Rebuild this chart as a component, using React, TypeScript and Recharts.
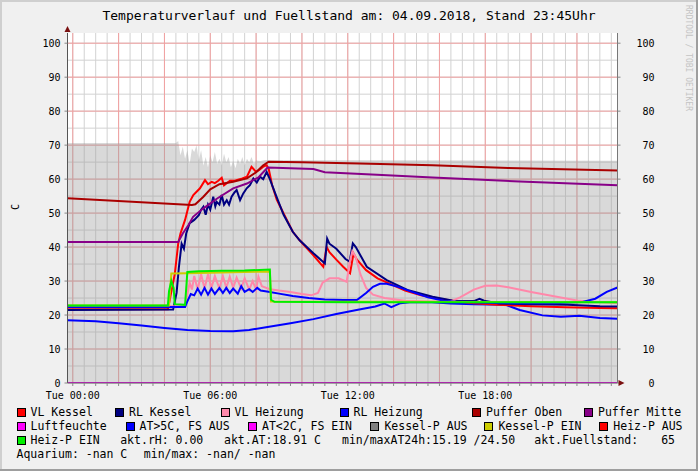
import React from "react"
import { Area, CartesianGrid, ComposedChart, Line, ReferenceDot, XAxis, YAxis } from "recharts"

const MONO = '"DejaVu Sans Mono", "Liberation Mono", monospace'

// x = hours of Tue 04.09.2018 (plot runs ~23:46 Mon .. 23:46 Tue), y = degC / %
const xDomain: [number, number] = [-0.23, 23.77]
const yDomain: [number, number] = [0, 103]

const yTicks = [0, 10, 20, 30, 40, 50, 60, 70, 80, 90, 100]
const gridY5 = [5, 10, 15, 20, 25, 30, 35, 40, 45, 50, 55, 60, 65, 70, 75, 80, 85, 90, 95, 100]
const gridY10 = [10, 20, 30, 40, 50, 60, 70, 80, 90, 100]
const halfHours = [
  0, 0.5, 1, 1.5, 2, 2.5, 3, 3.5, 4, 4.5, 5, 5.5, 6, 6.5, 7, 7.5, 8, 8.5, 9, 9.5, 10, 10.5, 11, 11.5,
  12, 12.5, 13, 13.5, 14, 14.5, 15, 15.5, 16, 16.5, 17, 17.5, 18, 18.5, 19, 19.5, 20, 20.5, 21, 21.5,
  22, 22.5, 23, 23.5,
]
const twoHours = [0, 2, 4, 6, 8, 10, 12, 14, 16, 18, 20, 22]
const labelHours = [0, 6, 12, 18]
const labelTexts = ["Tue 00:00", "Tue 06:00", "Tue 12:00", "Tue 18:00"]

type P = [number, number]

const fuellstand: P[] = [
  [-0.23, 70.6], [4.5, 70.6], [4.6, 71.2], [4.7, 67], [4.8, 69.5], [4.9, 66], [5.0, 68.5], [5.1, 64.5],
  [5.2, 69], [5.3, 68], [5.4, 70], [5.5, 65.5], [5.6, 68.5], [5.7, 64], [5.8, 66.5], [5.9, 63.5],
  [6.0, 67], [6.1, 65], [6.2, 68], [6.3, 64.5], [6.4, 66], [6.5, 64], [6.6, 67.5], [6.7, 65],
  [6.8, 66.5], [6.9, 63.5], [7.0, 65.5], [7.1, 63.2], [7.2, 66], [7.3, 64.5], [7.4, 66.5], [7.5, 64],
  [7.6, 66], [7.7, 65], [7.8, 66.5], [7.9, 64.5], [8.0, 65.5], [8.2, 65.3], [8.4, 65.6], [23.77, 65.4],
]

const aussenTemp: P[] = [
  [-0.23, 18.5], [1, 18.2], [2, 17.6], [3, 16.9], [4, 16.2], [5, 15.6], [6, 15.3], [7, 15.2],
  [7.7, 15.6], [8.5, 16.5], [9.5, 17.6], [10.5, 18.8], [11.5, 20.3], [12.5, 21.6], [13.2, 22.5],
  [13.6, 23.4], [13.9, 22.3], [14.3, 23.5], [14.8, 23.8], [15.5, 23.8], [16.5, 23.4], [17.5, 23.2],
  [18.9, 23], [19.5, 21.5], [20.5, 19.9], [21.3, 19.5], [22.1, 19.8], [23, 19.1], [23.77, 18.9],
]

const luftfeuchte: P[] = [[-0.23, 0], [23.77, 0]]

const vlKessel: P[] = [
  [-0.23, 21.7], [4.15, 21.7], [4.45, 32], [4.6, 41], [4.7, 44], [4.9, 48], [5.1, 53.3], [5.26, 55.3],
  [5.55, 57.3], [5.77, 59.7], [5.9, 58.5], [6.06, 59.2], [6.2, 58.8], [6.35, 59.5], [6.5, 60.4],
  [6.6, 58.2], [6.86, 59.5], [7.1, 59.6], [7.4, 60.2], [7.6, 60.7], [7.8, 63.6], [8.0, 62.1],
  [8.15, 62.8], [8.3, 63.6], [8.46, 64.1], [8.55, 63], [8.7, 58.2], [8.9, 54], [9.2, 49.9], [9.6, 44.5],
  [9.9, 42], [10.5, 37.6], [10.93, 34.2], [11.08, 40], [11.2, 38.5], [11.5, 36.3], [11.8, 34.2],
  [12.1, 32.3], [12.25, 38.1], [12.4, 36.3], [12.8, 33.2], [13.3, 30.8], [13.8, 29.3], [14.5, 27.2],
  [15.2, 25.8], [16, 24.8], [16.8, 24], [17.5, 23.5], [18.5, 23], [20, 22.6], [21.5, 22.3], [23, 22.1],
  [23.77, 22.0],
]

const rlKessel: P[] = [
  [-0.23, 21.5], [4.38, 21.6], [4.53, 26.5], [4.63, 34], [4.75, 41], [4.85, 39.5], [4.95, 44], [5.1, 47],
  [5.3, 48], [5.5, 49.4], [5.6, 51], [5.7, 51.9], [5.8, 49.5], [5.9, 52.5], [6.0, 51], [6.13, 54.8],
  [6.22, 52], [6.28, 53.3], [6.4, 52.5], [6.5, 55.3], [6.6, 52.5], [6.72, 53.8], [6.82, 52.5],
  [6.93, 54.8], [7.05, 56], [7.15, 56.8], [7.3, 53.8], [7.44, 55.8], [7.59, 57.3], [7.73, 58.2],
  [7.88, 60.2], [8.03, 59], [8.17, 60.7], [8.31, 60], [8.46, 62.1], [8.6, 60], [8.83, 55.9], [9.2, 49.5],
  [9.6, 44.5], [9.9, 42], [10.5, 38.2], [11.0, 35.2], [11.1, 42.5], [11.2, 41], [11.5, 39.5], [11.9, 36.5],
  [12.08, 35.7], [12.22, 41.1], [12.35, 40], [12.83, 34.2], [13.7, 30.3], [14.6, 27.4], [15.7, 25.4],
  [16.6, 24.2], [17.5, 24.1], [17.75, 24.8], [17.95, 24.2], [18.6, 23.4], [20, 23.2], [21.6, 23],
  [23, 22.6], [23.77, 22.5],
]

const vlHeizung: P[] = [
  [-0.23, 22.6], [4.9, 22.6], [5.0, 26], [5.1, 29.5], [5.2, 27.5], [5.3, 31.5], [5.45, 27.5], [5.6, 32],
  [5.75, 27.8], [5.9, 32], [6.05, 28], [6.2, 31.5], [6.4, 27.8], [6.55, 31.5], [6.7, 28], [6.85, 31.3],
  [7.0, 28], [7.15, 31], [7.35, 27.8], [7.5, 30.8], [7.7, 27.5], [7.85, 30], [8.0, 27.5], [8.1, 31.3],
  [8.25, 28.5], [8.6, 27.6], [9.0, 27.2], [9.5, 26.8], [10.0, 26.2], [10.4, 25.8], [10.7, 26.5],
  [10.9, 29.5], [11.2, 30.8], [11.6, 30.8], [11.95, 29.8], [12.1, 36], [12.2, 38.8], [12.35, 37],
  [12.55, 32], [12.8, 28], [13.1, 26], [13.6, 25], [14.5, 24.2], [15.5, 24], [16.5, 24], [16.9, 25.2],
  [17.5, 27.5], [18.0, 28.6], [18.5, 28.7], [19.0, 28.2], [20.0, 26.8], [21.0, 25.5], [22.0, 24.3],
  [23.0, 23.8], [23.77, 23.5],
]

const rlHeizung: P[] = [
  [-0.23, 22.4], [4.9, 22.4], [5.0, 24], [5.15, 26.2], [5.3, 25.8], [5.45, 27.8], [5.6, 26], [5.75, 28],
  [5.9, 26], [6.05, 27.8], [6.2, 26.2], [6.4, 28], [6.55, 26.5], [6.7, 28], [6.85, 26.5], [7.0, 27.8],
  [7.2, 26.3], [7.35, 28.5], [7.5, 26.8], [7.7, 27.6], [7.85, 26.8], [8.05, 28], [8.2, 27.2], [8.4, 27],
  [8.6, 26.8], [9.0, 26.3], [9.6, 25.6], [10.3, 25], [11.0, 24.6], [11.8, 24.4], [12.4, 24.4],
  [12.8, 26.5], [13.1, 28.3], [13.4, 29.2], [13.7, 29.2], [14.2, 28.3], [14.8, 26.8], [15.5, 25.2],
  [16.2, 24.2], [17, 23.8], [18, 23.6], [19.5, 23.5], [21, 23.5], [22.2, 23.8], [22.8, 24.8],
  [23.3, 26.8], [23.77, 28.1],
]

const pufferOben: P[] = [
  [-0.23, 54.4], [5.2, 52.4], [5.35, 52.6], [5.7, 54.8], [6, 57], [6.4, 58.5], [7, 59.2], [7.6, 60.2],
  [8.0, 62], [8.3, 64], [8.55, 65.1], [10, 65], [12.5, 64.6], [15.7, 64.1], [19, 63.3], [23.77, 62.5],
]

const pufferMitte: P[] = [
  [-0.23, 41.5], [4.6, 41.5], [4.8, 44], [5.05, 46.5], [5.25, 48.9], [5.7, 51.4], [6.3, 54.3], [7, 57.3],
  [7.6, 58.7], [8.1, 60.5], [8.5, 63.4], [10.5, 63], [11.0, 62], [13.5, 61.2], [15.7, 60.5],
  [19.5, 59.3], [23.77, 58.2],
]

const kesselPumpe: P[] = [
  [-0.23, 22.8], [4.2, 22.8], [4.3, 32.2], [5.0, 32.3], [8.6, 32.8], [8.65, 24], [23.77, 23.8],
]

const heizPumpe: P[] = [
  [-0.23, 22.8], [4.15, 22.8], [4.2, 27], [4.3, 30], [4.4, 28], [4.45, 23.2], [4.9, 23], [5.0, 32.7],
  [5.5, 32.9], [6.5, 33], [7.5, 33.1], [8.6, 33.4], [8.65, 24.5], [8.8, 23.9], [12, 23.8], [23.77, 23.8],
]

const pts = (arr: P[]) => arr.map(([t, v]) => ({ t, v }))

// drawing order = rrdtool order
const series = [
  { key: "at", data: aussenTemp, color: "#0000ff" },
  { key: "rh", data: luftfeuchte, color: "#ff00ff" },
  { key: "vlk", data: vlKessel, color: "#ff0000" },
  { key: "rlk", data: rlKessel, color: "#000080" },
  { key: "vlh", data: vlHeizung, color: "#ff88aa" },
  { key: "rlh", data: rlHeizung, color: "#0000ff" },
  { key: "kp", data: kesselPumpe, color: "#cccc00" },
  { key: "hp", data: heizPumpe, color: "#00ee00" },
  { key: "po", data: pufferOben, color: "#aa0000" },
  { key: "pm", data: pufferMitte, color: "#880088" },
]

const legendRow1 = [
  ["VL Kessel", "#ff0000"], ["RL Kessel", "#000080"], ["VL Heizung", "#ff88aa"],
  ["RL Heizung", "#0000ff"], ["Puffer Oben", "#aa0000"], ["Puffer Mitte", "#880088"],
]
const legendRow2 = [
  ["Luftfeuchte", "#ff00ff"], ["AT>5C, FS AUS", "#0000ff"], ["AT<2C, FS EIN", "#ff00ff"],
  ["Kessel-P AUS", "#808080"], ["Kessel-P EIN", "#cccc00"], ["Heiz-P AUS", "#ff0000"],
]
const legendRow3 = [
  ["Heiz-P EIN", "#00ee00"], ["akt.rH: 0.00", ""], ["akt.AT:18.91 C", ""],
  ["min/maxAT24h:15.19 /24.50", ""], ["akt.Fuellstand:", ""], ["65", ""],
]
const legendRow4 = [["Aquarium: -nan C", ""], ["min/max: -nan/ -nan", ""]]

const legendRows = [legendRow1, legendRow2, legendRow3, legendRow4]
const legendX = [
  [16.5, 115, 220.5, 339.5, 472, 584],
  [16.5, 125.6, 248, 370.4, 484.4, 599.3],
  [16.5, 120.2, 224, 342, 534.3, 661.2],
  [16.5, 143.8],
]
const legendY = [405, 419, 433, 447]

const XTick = (props: any) => {
  const { x, y, payload } = props
  const i = labelHours.indexOf(payload.value)
  if (i < 0) return <g />
  return (
    <text x={x} y={y + 13} textAnchor="middle" fontFamily={MONO} fontSize={10} fill="#000">
      {labelTexts[i]}
    </text>
  )
}

const RightTick = (props: any) => {
  const { x, y, payload } = props
  return (
    <text x={x + 30} y={y + 3.5} textAnchor="end" fontFamily={MONO} fontSize={10} fill="#000">
      {payload.value}
    </text>
  )
}

const UpArrow = (props: any) => (
  <path d={`M${props.cx - 3},${props.cy - 1} L${props.cx + 3},${props.cy - 1} L${props.cx},${props.cy - 7} Z`} fill="#7a1010" />
)
const RightArrow = (props: any) => (
  <path d={`M${props.cx + 1},${props.cy - 3} L${props.cx + 1},${props.cy + 3} L${props.cx + 7},${props.cy} Z`} fill="#7a1010" />
)

export default function App() {
  return (
    <div
      style={{
        position: "absolute",
        left: 0,
        top: 0,
        width: 698,
        height: 471,
        background: "#f0f0f0",
        boxShadow: "inset -2px -2px 0 #9e9e9e, inset 2px 2px 0 #cfcfcf",
        fontFamily: MONO,
        overflow: "hidden",
      }}
    >
      <div style={{ position: "absolute", left: 0, width: 698, top: 7, textAlign: "center", fontSize: 13, lineHeight: "18px" }}>
        Temperaturverlauf und Fuellstand am: 04.09.2018, Stand 23:45Uhr
      </div>
      <div
        style={{
          position: "absolute",
          left: 684,
          top: 5,
          writingMode: "vertical-rl",
          fontSize: 8,
          color: "#c4c4c4",
          lineHeight: "9px",
        }}
      >
        RRDTOOL / TOBI OETIKER
      </div>
      <div
        style={{
          position: "absolute",
          left: 15,
          top: 207,
          transform: "translate(-50%, -50%) rotate(-90deg)",
          fontSize: 10,
        }}
      >
        C
      </div>

      <div style={{ position: "absolute", left: 0, top: 0 }}>
        <ComposedChart width={698} height={471} margin={{ top: 33, right: 0, bottom: 0, left: 0 }}>
          <CartesianGrid
            yAxisId="L"
            fill="#ffffff"
            stroke="#d2d2d2"
            horizontalValues={gridY5}
            verticalValues={halfHours}
          />
          <CartesianGrid
            yAxisId="L"
            stroke="#f2a0a0"
            horizontalValues={gridY10}
            verticalValues={twoHours}
          />
          <XAxis
            type="number"
            dataKey="t"
            domain={xDomain}
            allowDataOverflow
            ticks={halfHours}
            interval={0}
            height={88}
            tickSize={3}
            tickMargin={0}
            tick={<XTick />}
            stroke="#888"
            axisLine={{ stroke: "#555" }}
          />
          <YAxis
            yAxisId="L"
            type="number"
            domain={yDomain}
            allowDataOverflow
            ticks={yTicks}
            interval={0}
            width={67.5}
            tickSize={3}
            tickMargin={4}
            tick={{ fontFamily: MONO, fontSize: 10, fill: "#000" }}
            stroke="#888"
            axisLine={{ stroke: "#555" }}
          />
          <YAxis
            yAxisId="R"
            orientation="right"
            type="number"
            domain={yDomain}
            allowDataOverflow
            ticks={yTicks}
            interval={0}
            width={80.5}
            tickSize={3}
            tickMargin={4}
            tick={<RightTick />}
            stroke="#888"
            axisLine={{ stroke: "#777" }}
          />
          <Area
            yAxisId="L"
            data={pts(fuellstand)}
            dataKey="v"
            type="linear"
            fill="#9a9a9a"
            fillOpacity={0.38}
            stroke="none"
            baseValue={0}
            isAnimationActive={false}
          />
          {series.map((s) => (
            <Line
              key={s.key}
              yAxisId="L"
              data={pts(s.data)}
              dataKey="v"
              type="linear"
              stroke={s.color}
              strokeWidth={2}
              dot={false}
              activeDot={false}
              isAnimationActive={false}
            />
          ))}
          <ReferenceDot yAxisId="L" x={xDomain[0]} y={yDomain[1]} r={0} shape={<UpArrow />} ifOverflow="visible" />
          <ReferenceDot yAxisId="L" x={xDomain[1]} y={0} r={0} shape={<RightArrow />} ifOverflow="visible" />
        </ComposedChart>
      </div>

      {legendRows.map((row, ri) =>
        row.map(([label, color], ii) => (
          <div
            key={`${ri}-${ii}`}
            style={{
              position: "absolute",
              left: legendX[ri][ii],
              top: legendY[ri],
              fontSize: 11.5,
              lineHeight: "14px",
              whiteSpace: "pre",
              display: "flex",
              alignItems: "center",
            }}
          >
            {color && (
              <span
                style={{
                  display: "inline-block",
                  width: 7,
                  height: 7,
                  background: color,
                  border: "1px solid #000",
                  marginRight: 5,
                }}
              />
            )}
            {label}
          </div>
        )),
      )}
    </div>
  )
}
